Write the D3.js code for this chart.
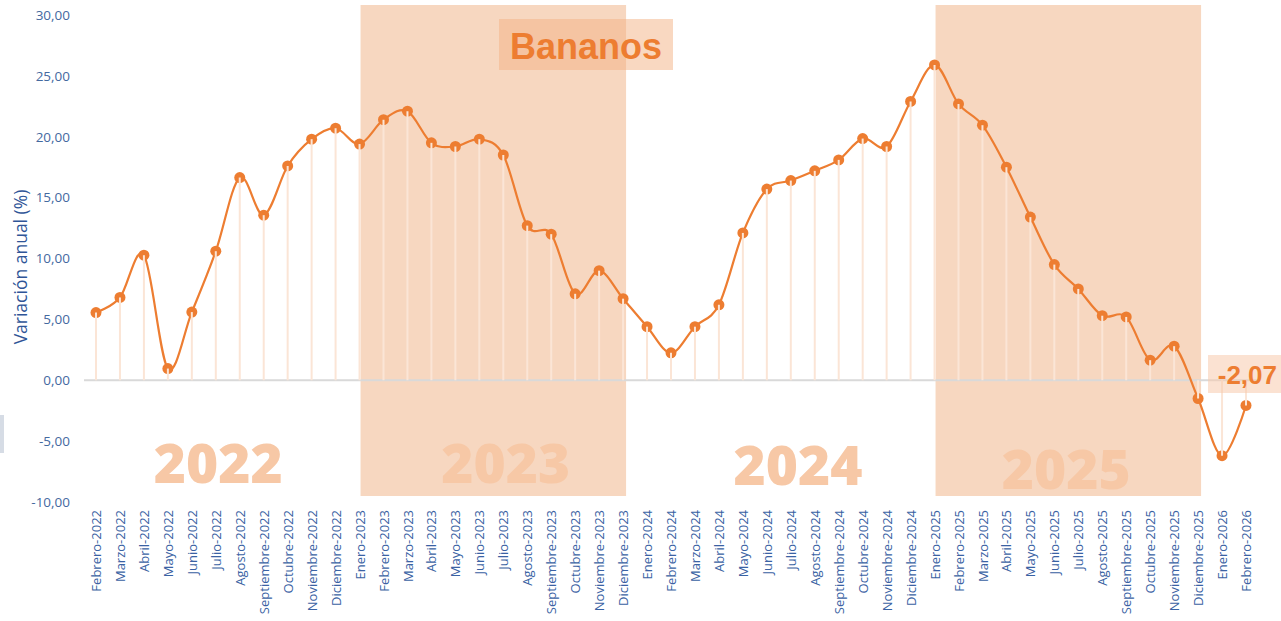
<!DOCTYPE html>
<html>
<head>
<meta charset="utf-8">
<script src="https://cdn.jsdelivr.net/npm/d3@7"></script>
<style>
  body { margin: 0; background: #fff; }
  svg { display: block; }
</style>
</head>
<body>
<div id="chart-area"></div>
<script>
const months = [
  "Febrero-2022","Marzo-2022","Abril-2022","Mayo-2022","Junio-2022","Julio-2022","Agosto-2022",
  "Septiembre-2022","Octubre-2022","Noviembre-2022","Diciembre-2022",
  "Enero-2023","Febrero-2023","Marzo-2023","Abril-2023","Mayo-2023","Junio-2023","Julio-2023",
  "Agosto-2023","Septiembre-2023","Octubre-2023","Noviembre-2023","Diciembre-2023",
  "Enero-2024","Febrero-2024","Marzo-2024","Abril-2024","Mayo-2024","Junio-2024","Julio-2024",
  "Agosto-2024","Septiembre-2024","Octubre-2024","Noviembre-2024","Diciembre-2024",
  "Enero-2025","Febrero-2025","Marzo-2025","Abril-2025","Mayo-2025","Junio-2025","Julio-2025",
  "Agosto-2025","Septiembre-2025","Octubre-2025","Noviembre-2025","Diciembre-2025",
  "Enero-2026","Febrero-2026"
]
const variacion = [
  5.56, 6.80, 10.27, 0.96, 5.60, 10.60, 16.65, 13.56, 17.60, 19.80, 20.70,
  19.40, 21.40, 22.10, 19.50, 19.20, 19.80, 18.50, 12.70, 12.00, 7.10, 9.00, 6.70,
  4.40, 2.25, 4.40, 6.20, 12.10, 15.70, 16.40, 17.20, 18.10, 19.85, 19.20, 22.90,
  25.90, 22.70, 20.95, 17.50, 13.40, 9.50, 7.50, 5.30, 5.20, 1.65, 2.80, -1.50,
  -6.20, -2.07
]
const yTicks = [-10, -5, 0, 5, 10, 15, 20, 25, 30]
const yearLabels = ["2022", "2023", "2024", "2025"]
const shadedYears = ["2023", "2025"]
const titleText = "Bananos"
const lastLabel = "-2,07"

const W = 1281, H = 621
const ORANGE = "#ED7D31"
const BLUE = "#2F5597"

const svg = d3.select("#chart-area").append("svg")
  .attr("width", W)
  .attr("height", H)

const idx = d3.range(months.length)

const x = d3.scaleLinear()
  .domain([0, months.length - 1])
  .range([96, 1246])

const y = d3.scaleLinear()
  .domain([-10, 30])
  .range([502, 15])

const fmt = d => d3.format(".2f")(d).replace(".", ",").replace("\u2212", "-")

// small marker on the left edge
svg.append("rect")
  .attr("x", 0).attr("y", 415)
  .attr("width", 4).attr("height", 38)
  .attr("fill", "#D6DCE5")

// shaded years
shadedYears.forEach(yr => {
  const a = months.indexOf("Enero-" + yr)
  const b = months.indexOf("Diciembre-" + yr)
  svg.append("rect")
    .attr("x", x(a) + 1)
    .attr("y", 5)
    .attr("width", x(b) - x(a) + 2)
    .attr("height", 491)
    .attr("fill", "#F7D7C0")
})

// year labels
const yearPos = [5.1, 17.1, 29.3, 40.5]
const yearBase = [-8.4, -8.4, -8.6, -8.9]
svg.selectAll(".year")
  .data(yearLabels)
  .join("text")
  .attr("class", "year")
  .attr("x", (d, i) => x(yearPos[i]))
  .attr("y", (d, i) => y(yearBase[i]))
  .attr("text-anchor", "middle")
  .attr("font-family", "'Open Sans', sans-serif")
  .attr("font-weight", 800)
  .attr("font-size", "55px")
  .attr("fill", "#F7C8A6")
  .text(d => d)

// zero line
svg.append("line")
  .attr("x1", x(0) - 12).attr("x2", x(months.length - 1) + 12)
  .attr("y1", y(0)).attr("y2", y(0))
  .attr("stroke", "#D9D9D9")
  .attr("stroke-width", 2)

// y axis (labels only)
const yAxis = svg.append("g")
  .attr("transform", "translate(70,0)")
  .call(d3.axisLeft(y).tickValues(yTicks).tickSize(0).tickPadding(0).tickFormat(fmt))
yAxis.select(".domain").remove()
yAxis.selectAll("text")
  .attr("font-family", "'Open Sans', sans-serif")
  .attr("font-size", "13.5px")
  .attr("fill", "#44699F")

svg.append("text")
  .attr("transform", "translate(27," + 267 + ") rotate(-90)")
  .attr("text-anchor", "middle")
  .attr("font-family", "'Open Sans', sans-serif")
  .attr("font-size", "17.5px")
  .attr("fill", BLUE)
  .text("Variación anual (%)")

// x axis (rotated labels)
const xAxis = svg.append("g")
  .attr("transform", "translate(0,510)")
  .call(d3.axisBottom(x).tickValues(idx).tickSize(0).tickPadding(0).tickFormat(i => months[i]))
xAxis.select(".domain").remove()
xAxis.selectAll("text")
  .attr("transform", "rotate(-90)")
  .attr("text-anchor", "end")
  .attr("x", 0)
  .attr("y", 0)
  .attr("dy", "0.35em")
  .attr("font-family", "'Open Sans', sans-serif")
  .attr("font-size", "13px")
  .attr("fill", "#3A62A3")

// title box
svg.append("rect")
  .attr("x", 499).attr("y", 19)
  .attr("width", 174).attr("height", 51)
  .attr("fill", "#F4B183")
  .attr("fill-opacity", 0.5)
svg.append("text")
  .attr("x", 586).attr("y", 59)
  .attr("text-anchor", "middle")
  .attr("font-family", "'Liberation Sans', Arial, sans-serif")
  .attr("font-weight", "bold")
  .attr("font-size", "36px")
  .attr("fill", ORANGE)
  .text(titleText)

// smoothed line
const line = d3.line()
  .x(i => x(i))
  .y(i => y(variacion[i]))
  .curve(d3.curveCardinal.tension(0))

svg.append("path")
  .datum(idx)
  .attr("fill", "none")
  .attr("stroke", ORANGE)
  .attr("stroke-width", 2.2)
  .attr("d", line)

// dots
svg.selectAll(".dot")
  .data(idx)
  .join("circle")
  .attr("class", "dot")
  .attr("cx", i => x(i))
  .attr("cy", i => y(variacion[i]))
  .attr("r", 5.5)
  .attr("fill", ORANGE)

// drop lines
svg.selectAll(".stem")
  .data(idx)
  .join("line")
  .attr("class", "stem")
  .attr("x1", i => x(i)).attr("x2", i => x(i))
  .attr("y1", y(0))
  .attr("y2", i => y(variacion[i]))
  .attr("stroke", "#FBE5D6")
  .attr("stroke-width", 2)

// last value label
svg.append("rect")
  .attr("x", 1208).attr("y", 355)
  .attr("width", 73).attr("height", 38)
  .attr("fill", "#F8CBAD")
  .attr("fill-opacity", 0.55)
svg.append("text")
  .attr("x", 1277).attr("y", 384)
  .attr("text-anchor", "end")
  .attr("font-family", "'Liberation Sans', Arial, sans-serif")
  .attr("font-weight", "bold")
  .attr("font-size", "26px")
  .attr("fill", ORANGE)
  .text(lastLabel)
</script>
</body>
</html>
